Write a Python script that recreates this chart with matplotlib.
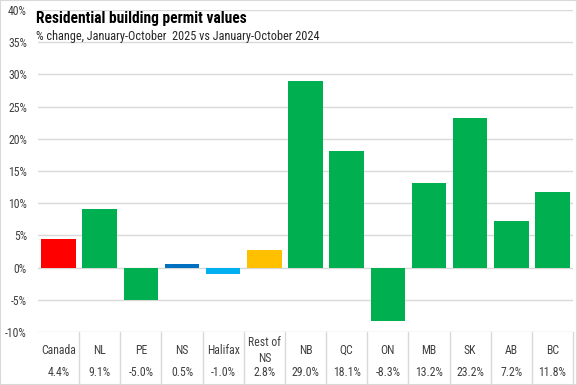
import matplotlib
matplotlib.use("Agg")
import matplotlib.pyplot as plt

categories = ["Canada", "NL", "PE", "NS", "Halifax", "Rest of\nNS", "NB", "QC", "ON", "MB", "SK", "AB", "BC"]
values = [4.4, 9.1, -5.0, 0.5, -1.0, 2.8, 29.0, 18.1, -8.3, 13.2, 23.2, 7.2, 11.8]
value_labels = ["4.4%", "9.1%", "-5.0%", "0.5%", "-1.0%", "2.8%", "29.0%", "18.1%", "-8.3%", "13.2%", "23.2%", "7.2%", "11.8%"]
colors = ["#FF0000", "#00B050", "#00B050", "#0070C0", "#00B0F0", "#FFC000", "#00B050",
          "#00B050", "#00B050", "#00B050", "#00B050", "#00B050", "#00B050"]
yticks = [-10, -5, 0, 5, 10, 15, 20, 25, 30, 35, 40]

plt.rcParams['font.family'] = ["Roboto Condensed", "DejaVu Sans"]

W, H = 577, 385
fig = plt.figure(figsize=(W / 100, H / 100), dpi=100)
x0, x1 = 38, 573
ytop, ybot = 10, 332
ax = fig.add_axes([x0 / W, 1 - ybot / H, (x1 - x0) / W, (ybot - ytop) / H])

n = len(categories)
xs = list(range(n))
ax.bar(xs, values, width=0.84, color=colors, zorder=3)
ax.set_xlim(-0.5, n - 0.5)
ax.set_ylim(-10, 40)
ax.set_yticks(yticks)
ax.set_yticklabels([f"{t}%" for t in yticks], fontsize=8.5, color="#404040")
ax.tick_params(axis="y", length=0, pad=8)
ax.set_xticks([])
ax.grid(axis="y", color="#D9D9D9", linewidth=1, zorder=0)
for s in ax.spines.values():
    s.set_visible(False)

# table below the axes
trans = ax.get_xaxis_transform()
for i in range(n):
    ax.text(i, -18.5 / 322, categories[i], transform=trans, ha="center", va="center",
            fontsize=8.5, color="#404040", clip_on=False, linespacing=1.3)
    ax.text(i, -41 / 322, value_labels[i], transform=trans, ha="center", va="center",
            fontsize=8.5, color="#404040", clip_on=False)
for b in range(1, n + 1):
    ax.plot([b - 0.5, b - 0.5], [0, -52 / 322], transform=trans, color="#D9D9D9",
            linewidth=1, clip_on=False)

fig.text(36 / W, 1 - 18 / H, "Residential building permit values", fontsize=11.2,
         fontweight="bold", color="#000000", va="center", ha="left")
fig.text(36 / W, 1 - 36.5 / H, "% change, January-October  2025 vs January-October 2024",
         fontsize=8.8, color="#262626", va="center", ha="left")

fig.patches.append(plt.Rectangle((0, 0), 1, 1, transform=fig.transFigure, fill=False,
                                 edgecolor="#D9D9D9", linewidth=1.5))
fig.savefig("out.png", dpi=100)
